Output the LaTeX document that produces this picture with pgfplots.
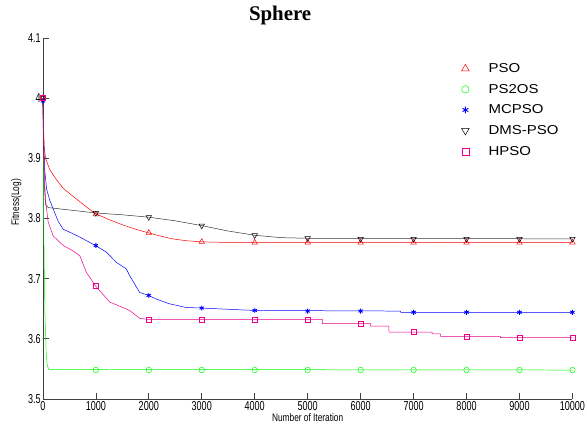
\documentclass[border=0pt]{standalone}
\usepackage{pgfplots}
\pgfplotsset{compat=1.18}
\usepackage{fontspec}
\setmainfont{Liberation Sans}
\newfontfamily\tickfont{Liberation Sans}[FakeStretch=0.70]
\newfontfamily\labfont{Liberation Sans}[FakeStretch=0.76]
\newfontfamily\legfont{Liberation Sans}[FakeStretch=1.16]
\newfontfamily\titlefont{Liberation Serif}
\begin{document}
\begin{tikzpicture}
\begin{axis}[
  scale only axis, width=531bp, height=362bp,
  xmin=0, xmax=10000, ymin=3.5, ymax=4.1,
  axis x line*=bottom, axis y line*=left,
  axis line style={black!75, line width=0.6pt},
  xtick={0,1000,...,10000}, ytick={3.5,3.6,3.7,3.8,3.9,4.0,4.1},
  scaled x ticks=false,
  /pgf/number format/1000 sep={},
  /pgf/number format/assume math mode=true,
  tick align=inside, major tick length=6bp,
  tick style={black!75, line width=0.6pt},
  ticklabel style={font=\tickfont\fontsize{13}{13}\selectfont},
  xticklabel style={inner sep=2bp},
  yticklabel style={inner sep=2bp},
  xlabel={Number of Iteration},
  ylabel={Fitness(Log)},
  xlabel style={font=\labfont\fontsize{11}{12}\selectfont, inner sep=1bp},
  ylabel style={font=\labfont\fontsize{11}{12}\selectfont, inner sep=0pt,
     at={(axis description cs:-0.040,0.545)}, anchor=south},
  title={Sphere},
  title style={font=\titlefont\bfseries\fontsize{21}{22}\selectfont, inner sep=0pt,
     at={(axis description cs:0.448,1)}, anchor=south, yshift=7bp},
  clip=false,
  legend style={at={(axis description cs:0.783,0.941)}, anchor=north west,
     draw=none, fill=white, font=\legfont\fontsize{13}{14}\selectfont,
     row sep=6.2bp, inner sep=2bp},
  legend image code/.code={%
     \path[draw=none, fill=none] (0cm,-0.1cm) rectangle (0.95cm,0.1cm);
     \draw[#1, every mark/.append style={scale=1.35}] plot coordinates {(0.2cm,0cm)};},
  legend cell align=left,
  every axis plot/.append style={line width=0.5pt},
]
% lines
\addplot[red, forget plot] coordinates {
(0,4.000)(10,3.960)(25,3.920)(50,3.900)(130,3.881)(250,3.865)(383,3.850)(550,3.838)
(697,3.828)(850,3.817)(992,3.808)(1250,3.798)(1513,3.789)(1750,3.782)(1996,3.776)
(2200,3.771)(2450,3.766)(2700,3.763)(3000,3.761)(3500,3.760)(10000,3.760)};
\addplot[green, forget plot] coordinates {
(0,4.000)(8,3.900)(16,3.800)(25,3.720)(40,3.640)(60,3.580)(80,3.557)(110,3.549)(10000,3.548)};
\addplot[blue, forget plot] coordinates {
(0,3.995)(15,3.930)(35,3.880)(70,3.849)(130,3.830)(194,3.816)(290,3.795)(383,3.782)
(508,3.777)(697,3.769)(992,3.755)(1199,3.744)(1388,3.727)(1576,3.716)(1638,3.705)
(1827,3.677)(1996,3.672)(2141,3.666)(2392,3.658)(2706,3.652)(2994,3.651)(3998,3.647)
(6750,3.646)(6760,3.644)(10000,3.644)};
\addplot[black!80, forget plot] coordinates {
(0,4.000)(10,3.930)(25,3.860)(50,3.823)(100,3.818)(500,3.814)(1000,3.809)(1500,3.806)
(2000,3.802)(2500,3.796)(3000,3.788)(3500,3.779)(4000,3.772)(4500,3.768)(5000,3.767)(10000,3.766)};
\addplot[magenta, forget plot] coordinates {
(0,4.000)(10,3.950)(25,3.880)(50,3.830)(100,3.794)(194,3.771)(383,3.755)(571,3.746)
(697,3.738)(823,3.710)(992,3.688)(1262,3.661)(1638,3.647)(1827,3.634)(1996,3.632)
(5279,3.632)(5280,3.625)(6190,3.625)(6191,3.621)(6535,3.621)(6536,3.611)(7350,3.611)
(7351,3.608)(7508,3.608)(7509,3.604)(8638,3.604)(8639,3.602)(10000,3.602)};
% markers
\addplot[only marks, mark=triangle, mark size=3.2pt, red] coordinates {
(0,4.000)(1000,3.807)(2000,3.776)(3000,3.761)(4000,3.760)(5000,3.760)(6000,3.760)
(7000,3.760)(8000,3.760)(9000,3.760)(10000,3.760)};
\addlegendentry{PSO}
\addplot[only marks, mark=o, mark size=2.8pt, green] coordinates {
(0,4.000)(1000,3.548)(2000,3.548)(3000,3.548)(4000,3.548)(5000,3.548)(6000,3.548)
(7000,3.548)(8000,3.548)(9000,3.548)(10000,3.548)};
\addlegendentry{PS2OS}
\addplot[only marks, mark=asterisk, mark size=2.5pt, blue, line width=0.9pt] coordinates {
(0,3.995)(1000,3.755)(2000,3.672)(3000,3.651)(4000,3.647)(5000,3.646)(6000,3.646)
(7000,3.644)(8000,3.644)(9000,3.644)(10000,3.644)};
\addlegendentry{MCPSO}
\addplot[only marks, mark=triangle, mark options={rotate=180}, mark size=3.2pt, black] coordinates {
(0,4.000)(1000,3.809)(2000,3.802)(3000,3.788)(4000,3.772)(5000,3.767)(6000,3.766)
(7000,3.766)(8000,3.766)(9000,3.766)(10000,3.766)};
\addlegendentry{DMS-PSO}
\addplot[only marks, mark=square, mark size=2.6pt, magenta] coordinates {
(0,4.000)(1000,3.688)(2000,3.632)(3000,3.632)(4000,3.632)(5000,3.632)(6000,3.625)
(7000,3.611)(8000,3.604)(9000,3.602)(10000,3.602)};
\addlegendentry{HPSO}
\end{axis}
\path (current axis.south west) ++(-43bp,-30bp) coordinate (bbA);
\path (current axis.north east) ++(13bp,38bp) coordinate (bbB);
\path (bbA) rectangle (bbB);
\end{tikzpicture}
\end{document}
